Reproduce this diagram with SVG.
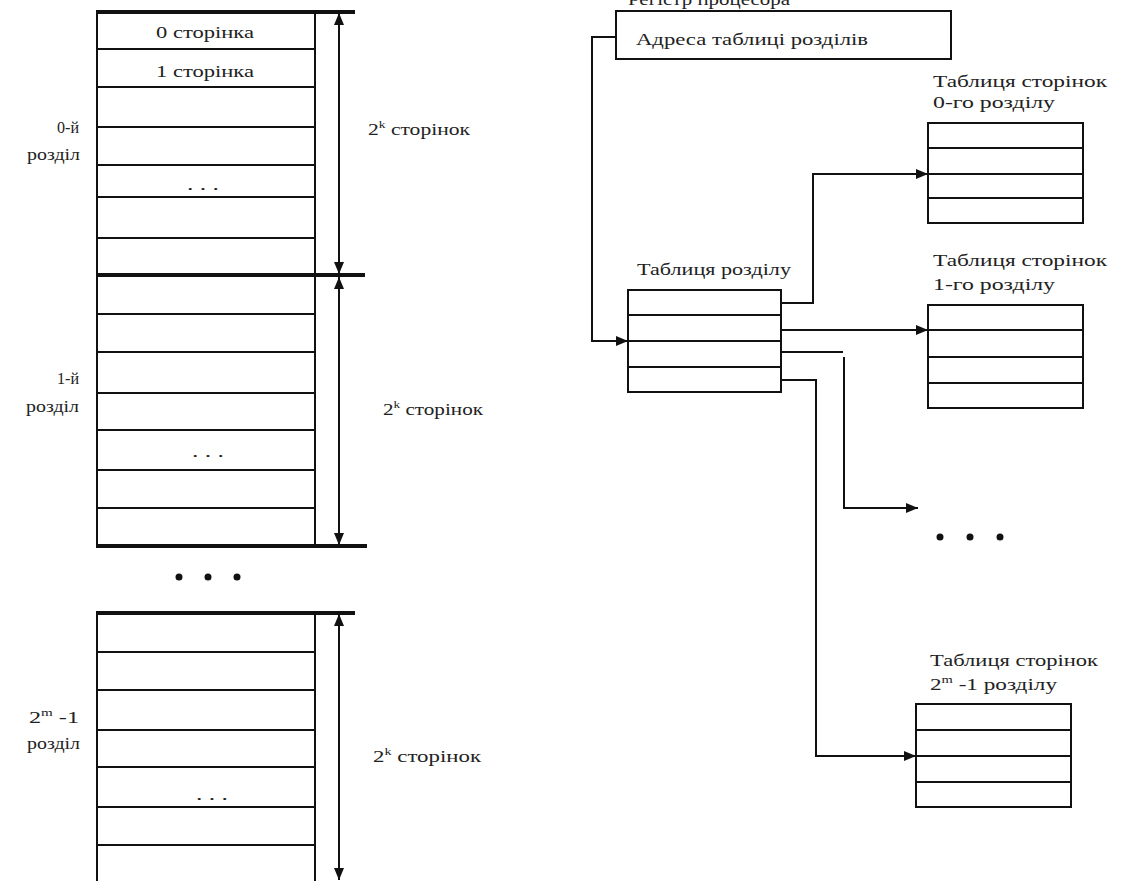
<svg xmlns="http://www.w3.org/2000/svg" width="1122" height="881" viewBox="0 0 1122 881">
  <style>
    .t{font-family:"Liberation Serif","DejaVu Serif",serif;font-size:16px;fill:#222}
    .sup{font-size:10px}
    .box{fill:none;stroke:#111;stroke-width:2}
    .row{stroke:#111;stroke-width:2}
    .thick{stroke:#111;stroke-width:4}
    .dim{stroke:#111;stroke-width:2;marker-start:url(#ah2);marker-end:url(#ah2)}
    .con{fill:none;stroke:#111;stroke-width:2}
    .arr{marker-end:url(#ah)}
    .dot{fill:#111}
  </style>
  <defs>
    <marker id="ah" viewBox="0 0 12 10" refX="12" refY="5" markerWidth="12" markerHeight="10" orient="auto" markerUnits="userSpaceOnUse">
      <path d="M0,0 L12,5 L0,10 z" fill="#111"/>
    </marker>
    <marker id="ah2" viewBox="0 0 12 10" refX="12" refY="5" markerWidth="12" markerHeight="10" orient="auto-start-reverse" markerUnits="userSpaceOnUse">
      <path d="M0,0 L12,5 L0,10 z" fill="#111"/>
    </marker>
  </defs>
  <rect width="1122" height="881" fill="#fff"/>

  <!-- Section 0 of the address space -->
  <g id="section0">
    <rect class="box" x="97" y="12" width="218" height="263"/>
    <line class="row" x1="97" y1="49" x2="315" y2="49"/>
    <line class="row" x1="97" y1="87" x2="315" y2="87"/>
    <line class="row" x1="97" y1="127" x2="315" y2="127"/>
    <line class="row" x1="97" y1="165" x2="315" y2="165"/>
    <line class="row" x1="97" y1="197" x2="315" y2="197"/>
    <line class="row" x1="97" y1="238" x2="315" y2="238"/>
    <line class="thick" x1="96" y1="12" x2="355" y2="12"/>
    <line class="thick" x1="96" y1="275" x2="365" y2="275"/>
    <line class="dim" x1="339" y1="13" x2="339" y2="274"/>
    <text class="t" x="205" y="38" text-anchor="middle" textLength="98" lengthAdjust="spacingAndGlyphs">0 сторінка</text>
    <text class="t" x="205" y="77" text-anchor="middle" textLength="98" lengthAdjust="spacingAndGlyphs">1 сторінка</text>
    <text class="t" x="203" y="190" text-anchor="middle" textLength="32" lengthAdjust="spacingAndGlyphs">. . .</text>
    <text class="t" x="79" y="133" text-anchor="end" textLength="22" lengthAdjust="spacingAndGlyphs">0-й</text>
    <text class="t" x="80" y="160" text-anchor="end" textLength="53" lengthAdjust="spacingAndGlyphs">розділ</text>
    <text class="t" x="368" y="135" textLength="102" lengthAdjust="spacingAndGlyphs">2<tspan class="sup" dy="-7">k</tspan><tspan dy="7"> сторінок</tspan></text>
  </g>

  <!-- Section 1 of the address space -->
  <g id="section1">
    <rect class="box" x="97" y="275" width="218" height="271"/>
    <line class="row" x1="97" y1="314" x2="315" y2="314"/>
    <line class="row" x1="97" y1="352" x2="315" y2="352"/>
    <line class="row" x1="97" y1="393" x2="315" y2="393"/>
    <line class="row" x1="97" y1="430" x2="315" y2="430"/>
    <line class="row" x1="97" y1="470" x2="315" y2="470"/>
    <line class="row" x1="97" y1="508" x2="315" y2="508"/>
    <line class="thick" x1="96" y1="546" x2="367" y2="546"/>
    <line class="dim" x1="339" y1="277" x2="339" y2="545"/>
    <text class="t" x="208" y="457" text-anchor="middle" textLength="32" lengthAdjust="spacingAndGlyphs">. . .</text>
    <text class="t" x="79" y="384" text-anchor="end" textLength="22" lengthAdjust="spacingAndGlyphs">1-й</text>
    <text class="t" x="79" y="412" text-anchor="end" textLength="53" lengthAdjust="spacingAndGlyphs">розділ</text>
    <text class="t" x="383" y="415" textLength="100" lengthAdjust="spacingAndGlyphs">2<tspan class="sup" dy="-7">k</tspan><tspan dy="7"> сторінок</tspan></text>
  </g>

  <!-- Ellipsis between sections -->
  <g id="sections-gap">
    <circle class="dot" cx="179" cy="577" r="3.5"/>
    <circle class="dot" cx="208" cy="577" r="3.5"/>
    <circle class="dot" cx="237" cy="577" r="3.5"/>
  </g>

  <!-- Last section (2^m - 1) -->
  <g id="section-last">
    <rect class="box" x="97" y="613" width="218" height="280"/>
    <line class="row" x1="97" y1="652" x2="315" y2="652"/>
    <line class="row" x1="97" y1="690" x2="315" y2="690"/>
    <line class="row" x1="97" y1="730" x2="315" y2="730"/>
    <line class="row" x1="97" y1="767" x2="315" y2="767"/>
    <line class="row" x1="97" y1="807" x2="315" y2="807"/>
    <line class="row" x1="97" y1="845" x2="315" y2="845"/>
    <line class="thick" x1="96" y1="613" x2="355" y2="613"/>
    <line class="dim" x1="339" y1="614" x2="339" y2="880"/>
    <text class="t" x="212" y="800" text-anchor="middle" textLength="32" lengthAdjust="spacingAndGlyphs">. . .</text>
    <text class="t" x="79" y="723" text-anchor="end" textLength="50" lengthAdjust="spacingAndGlyphs">2<tspan class="sup" dy="-7">m</tspan><tspan dy="7"> -1</tspan></text>
    <text class="t" x="80" y="749" text-anchor="end" textLength="53" lengthAdjust="spacingAndGlyphs">розділ</text>
    <text class="t" x="373" y="762" textLength="108" lengthAdjust="spacingAndGlyphs">2<tspan class="sup" dy="-7">k</tspan><tspan dy="7"> сторінок</tspan></text>
  </g>

  <!-- Processor register -->
  <g id="register">
    <text class="t" x="628" y="5" textLength="162" lengthAdjust="spacingAndGlyphs">Регістр процесора</text>
    <rect class="box" x="616" y="11" width="335" height="48"/>
    <text class="t" x="636" y="45" textLength="232" lengthAdjust="spacingAndGlyphs">Адреса таблиці розділів</text>
  </g>

  <!-- Section table -->
  <g id="section-table">
    <text class="t" x="637" y="275" textLength="154" lengthAdjust="spacingAndGlyphs">Таблиця розділу</text>
    <rect class="box" x="628" y="290" width="153" height="102"/>
    <line class="row" x1="628" y1="315" x2="781" y2="315"/>
    <line class="row" x1="628" y1="341" x2="781" y2="341"/>
    <line class="row" x1="628" y1="367" x2="781" y2="367"/>
  </g>

  <!-- Page table of section 0 -->
  <g id="page-table-0">
    <text class="t" x="933" y="87" textLength="174" lengthAdjust="spacingAndGlyphs">Таблиця сторінок</text>
    <text class="t" x="933" y="108" textLength="122" lengthAdjust="spacingAndGlyphs">0-го розділу</text>
    <rect class="box" x="928" y="123" width="155" height="100"/>
    <line class="row" x1="928" y1="148" x2="1083" y2="148"/>
    <line class="row" x1="928" y1="174" x2="1083" y2="174"/>
    <line class="row" x1="928" y1="198" x2="1083" y2="198"/>
  </g>

  <!-- Page table of section 1 -->
  <g id="page-table-1">
    <text class="t" x="933" y="266" textLength="174" lengthAdjust="spacingAndGlyphs">Таблиця сторінок</text>
    <text class="t" x="933" y="290" textLength="122" lengthAdjust="spacingAndGlyphs">1-го розділу</text>
    <rect class="box" x="928" y="305" width="155" height="103"/>
    <line class="row" x1="928" y1="330" x2="1083" y2="330" stroke-width="3.5"/>
    <line class="row" x1="928" y1="357" x2="1083" y2="357"/>
    <line class="row" x1="928" y1="383" x2="1083" y2="383"/>
  </g>

  <!-- Ellipsis between page tables -->
  <g id="page-tables-gap">
    <circle class="dot" cx="940" cy="537" r="3.5"/>
    <circle class="dot" cx="970" cy="537" r="3.5"/>
    <circle class="dot" cx="1000" cy="537" r="3.5"/>
  </g>

  <!-- Page table of the last section -->
  <g id="page-table-last">
    <text class="t" x="930" y="666" textLength="168" lengthAdjust="spacingAndGlyphs">Таблиця сторінок</text>
    <text class="t" x="930" y="690" textLength="127" lengthAdjust="spacingAndGlyphs">2<tspan class="sup" dy="-7">m</tspan><tspan dy="7"> -1 розділу</tspan></text>
    <rect class="box" x="916" y="704" width="155" height="103"/>
    <line class="row" x1="916" y1="730" x2="1071" y2="730"/>
    <line class="row" x1="916" y1="756" x2="1071" y2="756"/>
    <line class="row" x1="916" y1="782" x2="1071" y2="782"/>
  </g>

  <!-- Connectors -->
  <g id="connectors">
    <path class="con arr" d="M616,37 H592 V341 H628"/>
    <path class="con arr" d="M781,303 H813 V174 H928"/>
    <path class="con arr" d="M781,330 H928"/>
    <path class="con" d="M781,352 H843"/>
    <path class="con arr" d="M844,357 V508 H918"/>
    <path class="con arr" d="M781,380 H816 V756 H916"/>
  </g>
</svg>
